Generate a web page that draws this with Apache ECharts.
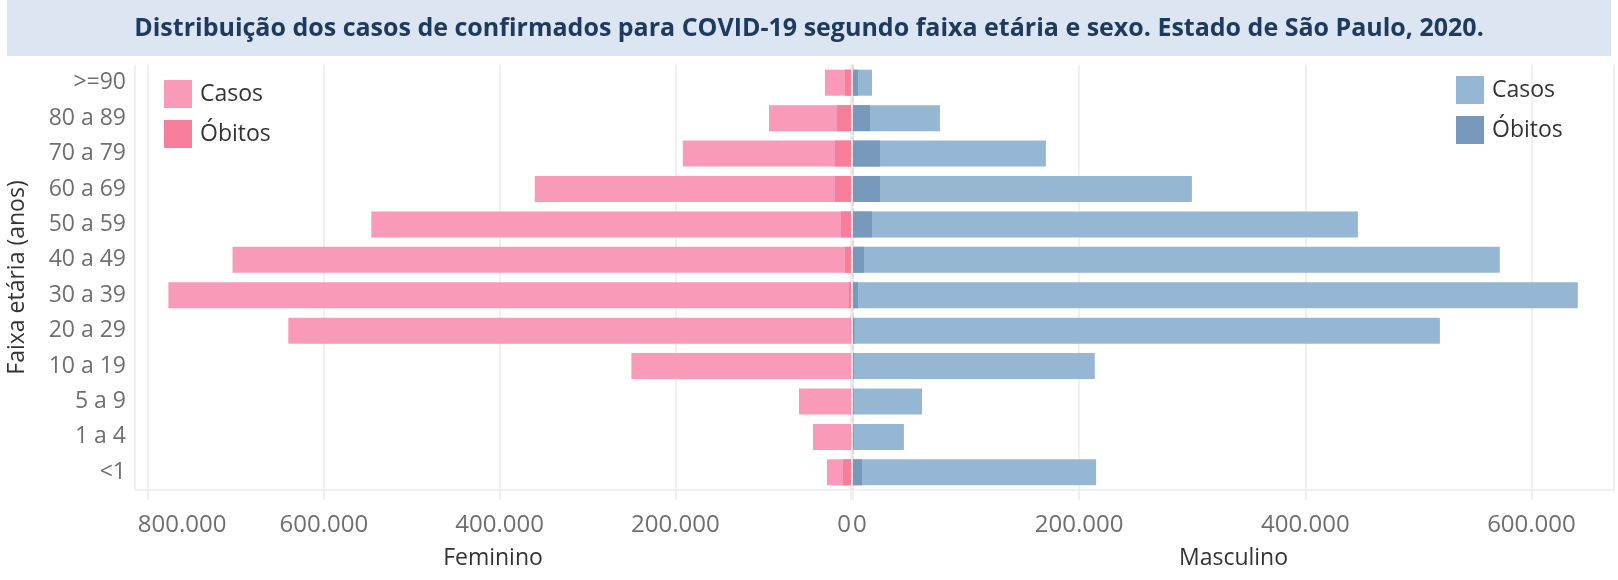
<!DOCTYPE html>
<html>
<head>
<meta charset="utf-8">
<script src="https://cdn.jsdelivr.net/npm/echarts@6/dist/echarts.min.js"></script>
<style>
html,body{margin:0;padding:0;background:#fff;}
#chart{width:1618px;height:580px;}
</style>
</head>
<body>
<div id="chart"></div>
<script>
// Age groups, top to bottom as in the picture
var categories = ['>=90','80 a 89','70 a 79','60 a 69','50 a 59','40 a 49','30 a 39','20 a 29','10 a 19','5 a 9','1 a 4','<1'];
// Feminino
var femCasos  = [29600, 93300, 191500, 360000, 546000, 704000, 777000, 640500, 250000, 59200, 43300, 27300];
var femObitos = [6800, 15900, 18200, 18200, 11400, 6800, 2300, 500, 200, 100, 100, 9100];
// Masculino
var masCasos  = [16800, 76900, 170600, 299700, 446500, 572000, 641000, 519000, 213800, 61000, 45000, 215000];
var masObitos = [4400, 15000, 23900, 23900, 16800, 9700, 4400, 1300, 800, 500, 500, 8000];

var titleText = 'Distribuição dos casos de confirmados para COVID-19 segundo faixa etária e sexo. Estado de São Paulo, 2020.';

var FONT = '"Open Sans", sans-serif';
var pinkC = '#f99ab8', pinkO = '#f77e9b', blueC = '#95b7d4', blueO = '#7899bb';
var gridColor = '#ebebeb';

function fmt(v){
  return String(Math.round(v)).replace(/\B(?=(\d{3})+(?!\d))/g, '.');
}

var chart = echarts.init(document.getElementById('chart'), null, {renderer:'canvas'});

function xAxisCommon(gridIndex, inverse, max, name, alignMin, edgeValue){
  return {
    type:'value', gridIndex:gridIndex, inverse:inverse, min:0, max:max, interval:200000,
    name:name, nameLocation:'middle', nameGap:57,
    nameTextStyle:{fontFamily:FONT, fontSize:23, color:'#333'},
    axisLine:{show:true, lineStyle:{color:gridColor, width:1.5}},
    axisTick:{show:true, length:10, lineStyle:{color:gridColor, width:1.5}},
    splitLine:{show:true, lineStyle:{color:gridColor, width:1.5}},
    axisLabel:{
      fontFamily:FONT, fontSize:24, color:'#6f6f6f', margin:23,
      formatter:function(v){
        return v === edgeValue ? '{e|' + fmt(v) + '}' : fmt(v);
      },
      rich:{e:{fontFamily:FONT, fontSize:24, color:'#6f6f6f', padding:[0,0,0,68]}},
      showMaxLabel:false, alignMinLabel:alignMin
    }
  };
}

var option = {
  animation:false,
  backgroundColor:'#fff',
  graphic:[{
    type:'rect', left:7, top:0, z:-1,
    shape:{width:1604, height:56},
    style:{fill:'#dce6f2'}
  }],
  title:{
    text:titleText, left:'center', top:11,
    textStyle:{fontFamily:FONT, fontWeight:'bold', fontSize:25, color:'#1f3a60'}
  },
  legend:[{
    orient:'vertical', left:159, top:75, itemWidth:28, itemHeight:28, itemGap:12,
    selectedMode:false, icon:'rect',
    data:['Casos F','Óbitos F'],
    formatter:function(n){ return n.replace(/ [FM]$/, ''); },
    textStyle:{fontFamily:FONT, fontSize:23, color:'#333', padding:[0,0,0,3]}
  },{
    orient:'vertical', left:1451, top:71, itemWidth:28, itemHeight:28, itemGap:12,
    selectedMode:false, icon:'rect',
    data:['Casos M','Óbitos M'],
    formatter:function(n){ return n.replace(/ [FM]$/, ''); },
    textStyle:{fontFamily:FONT, fontSize:23, color:'#333', padding:[0,0,0,3]}
  }],
  grid:[
    {left:135, width:716, top:65, height:425},
    {left:853, width:761, top:65, height:425}
  ],
  xAxis:[
    xAxisCommon(0, true, 815000, 'Feminino', 'right', 800000),
    xAxisCommon(1, false, 673000, 'Masculino', 'left', -1)
  ],
  yAxis:[{
    type:'category', gridIndex:0, data:categories, inverse:true, position:'left',
    name:'Faixa etária (anos)', nameLocation:'middle', nameGap:106, nameRotate:90,
    nameTextStyle:{fontFamily:FONT, fontSize:23, color:'#333'},
    axisLine:{show:true, lineStyle:{color:gridColor, width:1.5}},
    axisTick:{show:false},
    axisLabel:{fontFamily:FONT, fontSize:23, color:'#6f6f6f', margin:9, padding:[7,0,0,0]}
  },{
    type:'category', gridIndex:1, data:categories, inverse:true, position:'left',
    axisLine:{show:true, lineStyle:{color:'#d6d6d6', width:1.5, type:[5,3]}},
    axisTick:{show:false},
    axisLabel:{show:false}
  }],
  series:[
    {name:'Casos F', type:'bar', xAxisIndex:0, yAxisIndex:0, data:femCasos, barWidth:26, barGap:'-100%', itemStyle:{color:pinkC}},
    {name:'Óbitos F', type:'bar', xAxisIndex:0, yAxisIndex:0, data:femObitos, barWidth:26, barGap:'-100%', itemStyle:{color:pinkO}},
    {name:'Casos M', type:'bar', xAxisIndex:1, yAxisIndex:1, data:masCasos, barWidth:26, barGap:'-100%', itemStyle:{color:blueC}},
    {name:'Óbitos M', type:'bar', xAxisIndex:1, yAxisIndex:1, data:masObitos, barWidth:26, barGap:'-100%', itemStyle:{color:blueO}}
  ]
};
chart.setOption(option);
</script>
</body>
</html>
